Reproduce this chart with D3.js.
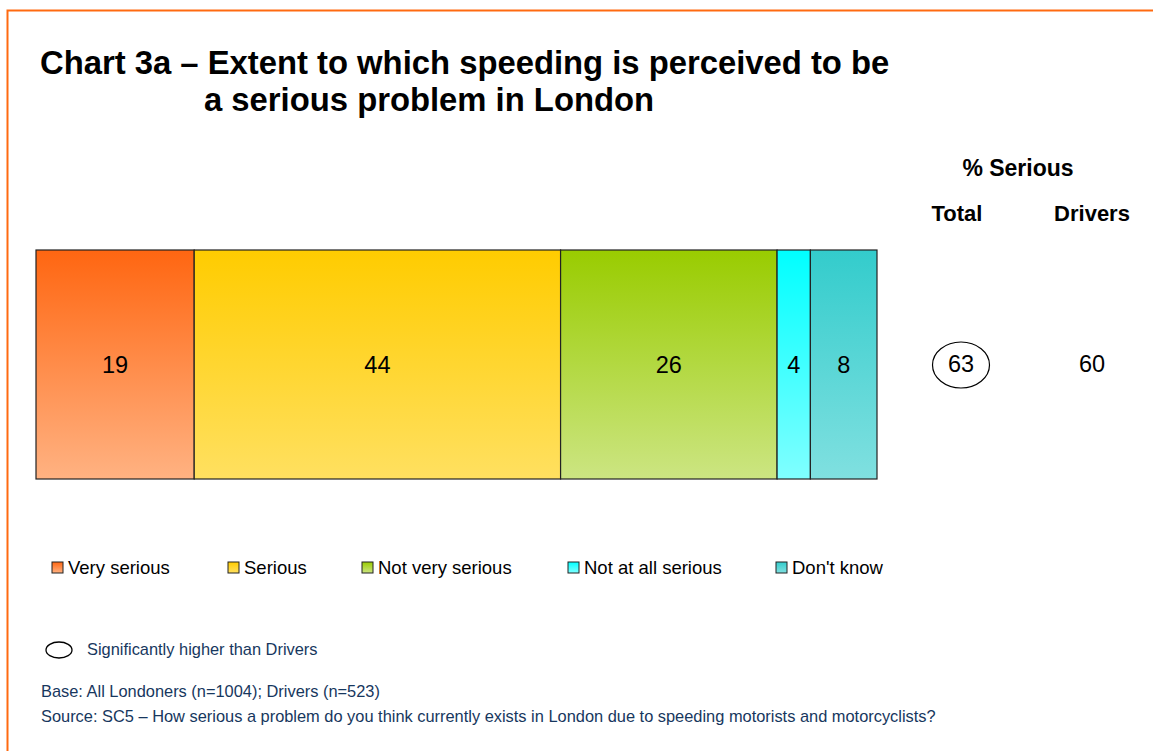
<html>
<script src="https://d3js.org/d3.v7.min.js"></script>
<style>
  body { margin: 0; background: #fff; }
  text { font-family: "Liberation Sans", Arial, sans-serif; }
</style>
<body>
<svg width="1153" height="751"></svg>
<script>
// data
var categories = ["Very serious", "Serious", "Not very serious", "Not at all serious", "Don't know"];
var values = [19, 44, 26, 4, 8];
var topColors = ["#ff6611", "#ffcc00", "#99cc00", "#00ffff", "#33cccc"];
var bottomColors = ["#ffb282", "#ffe060", "#cce582", "#80ffff", "#80e0e0"];
var seriousCols = ["Total", "Drivers"];
var seriousVals = [63, 60];
var significant = [true, false];

var svg = d3.select("svg");

// frame
svg.append("path")
  .attr("d", "M7.5,1200 V10.5 H1200")
  .attr("fill", "none")
  .attr("stroke", "#ff6a10")
  .attr("stroke-width", 2);

// title
svg.append("text").attr("x", 40).attr("y", 74)
  .style("font-size", "32.8px").style("font-weight", "bold")
  .text("Chart 3a \u2013 Extent to which speeding is perceived to be");
svg.append("text").attr("x", 204).attr("y", 111)
  .style("font-size", "32.8px").style("font-weight", "bold")
  .text("a serious problem in London");

// gradients
var defs = svg.append("defs");
categories.forEach(function(c, i) {
  var g = defs.append("linearGradient").attr("id", "grad" + i)
    .attr("x1", 0).attr("y1", 0).attr("x2", 0).attr("y2", 1);
  g.append("stop").attr("offset", "0%").attr("stop-color", topColors[i]);
  g.append("stop").attr("offset", "100%").attr("stop-color", bottomColors[i]);
});

// bar
var x = d3.scaleLinear().domain([0, d3.sum(values)]).range([36, 877]);
var y = d3.scaleBand().domain(["all"]).range([250, 479]);

var starts = [];
var acc = 0;
values.forEach(function(v) { starts.push(acc); acc += v; });

var seg = svg.append("g").selectAll("g")
  .data(values)
  .enter().append("g");

seg.append("rect")
  .attr("x", function(d, i) { return x(starts[i]); })
  .attr("y", y("all"))
  .attr("width", function(d, i) { return x(starts[i] + d) - x(starts[i]); })
  .attr("height", y.bandwidth())
  .attr("fill", function(d, i) { return "url(#grad" + i + ")"; })
  .attr("stroke", "#222")
  .attr("stroke-width", 1.2);

seg.append("text")
  .attr("x", function(d, i) { return x(starts[i] + d / 2); })
  .attr("y", y("all") + y.bandwidth() / 2 + 8)
  .attr("text-anchor", "middle")
  .style("font-size", "23.5px")
  .text(function(d) { return d; });

// % serious columns
var colX = d3.scalePoint().domain(seriousCols).range([957, 1092]);
svg.append("text").attr("x", 1018).attr("y", 176)
  .attr("text-anchor", "middle")
  .style("font-size", "23px").style("font-weight", "bold")
  .text("% Serious");

seriousCols.forEach(function(c, i) {
  svg.append("text").attr("x", colX(c)).attr("y", 221)
    .attr("text-anchor", "middle")
    .style("font-size", "22px").style("font-weight", "bold")
    .text(c);
  var cx = colX(c) + (i === 0 ? 4 : 0);
  if (significant[i]) {
    svg.append("ellipse").attr("cx", cx).attr("cy", 365)
      .attr("rx", 28.5).attr("ry", 23)
      .attr("fill", "none").attr("stroke", "#000").attr("stroke-width", 1.2);
  }
  svg.append("text").attr("x", cx).attr("y", 372)
    .attr("text-anchor", "middle")
    .style("font-size", "23.5px")
    .text(seriousVals[i]);
});

// legend
var legendX = [52, 228, 362, 568, 776];
var legend = svg.append("g").selectAll("g")
  .data(categories)
  .enter().append("g")
  .attr("transform", function(d, i) { return "translate(" + legendX[i] + ",562)"; });
legend.append("rect")
  .attr("width", 11).attr("height", 11)
  .attr("fill", function(d, i) { return "url(#grad" + i + ")"; })
  .attr("stroke", "#222").attr("stroke-width", 1);
legend.append("text")
  .attr("x", 16).attr("y", 12)
  .style("font-size", "18.5px")
  .text(function(d) { return d; });

// notes
svg.append("ellipse").attr("cx", 59).attr("cy", 650)
  .attr("rx", 13).attr("ry", 8)
  .attr("fill", "none").attr("stroke", "#000").attr("stroke-width", 1.3);
svg.append("text").attr("x", 87).attr("y", 655)
  .style("font-size", "16.4px").attr("fill", "#17375e")
  .text("Significantly higher than Drivers");
svg.append("text").attr("x", 41).attr("y", 697)
  .style("font-size", "16.4px").attr("fill", "#17375e")
  .text("Base: All Londoners (n=1004); Drivers (n=523)");
svg.append("text").attr("x", 41).attr("y", 722)
  .style("font-size", "16.4px").attr("fill", "#17375e")
  .text("Source: SC5 \u2013 How serious a problem do you think currently exists in London due to speeding motorists and motorcyclists?");
</script>
</body>
</html>
